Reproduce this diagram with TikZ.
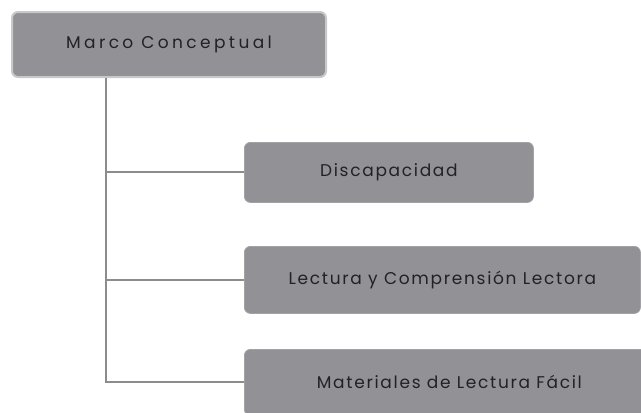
\documentclass[tikz,border=0pt]{standalone}
\usepackage{fontspec}
\setmainfont{Poppins}[LetterSpace=10]
\usetikzlibrary{positioning, calc}
\definecolor{boxcolor}{RGB}{146, 146, 150}
\definecolor{rimcolor}{RGB}{200, 200, 203}
\definecolor{linecolor}{RGB}{140, 140, 143}
\definecolor{textcolor}{RGB}{34, 34, 36}
\tikzset{
    % Base styles
    basenode/.style={
        rectangle, fill=boxcolor, align=center,
        font=\fontsize{17}{19}\selectfont, text=textcolor,
        rounded corners=6pt, anchor=north west, inner sep=0pt
    },
    % Specific node types
    rootnode/.style={basenode, draw=rimcolor, line width=2pt,
        font=\fontsize{17}{19}\selectfont\addfontfeatures{LetterSpace=20}},
    topicnode/.style={basenode, draw=boxcolor!85!white, line width=0.8pt},
    % Connectors
    branch/.style={draw=linecolor, line width=2pt},
}
\begin{document}
\begin{tikzpicture}[x=1pt, y=-1pt]
\useasboundingbox (0,0) rectangle (641,413);

% Nodes
\node (marco) [rootnode, minimum width=314pt, minimum height=65pt] at (11,11) {Marco Conceptual};

\node (discapacidad) [topicnode, minimum width=289pt, minimum height=60pt] at (244,142) {Discapacidad};

\node (lectura) [topicnode, minimum width=396pt, minimum height=67pt] at (244,246) {Lectura y Comprensión Lectora};

\node (materiales) [topicnode, minimum width=410pt, minimum height=66pt] at (244,349) {Materiales de Lectura Fácil};

% Connectors
\coordinate (tronco) at ($(marco.south west)!0.3!(marco.south east)$);
\draw[branch] (tronco) |- (materiales.west);
\draw[branch] (tronco |- discapacidad.west) -- (discapacidad.west);
\draw[branch] (tronco |- lectura.west) -- (lectura.west);

\end{tikzpicture}
\end{document}
